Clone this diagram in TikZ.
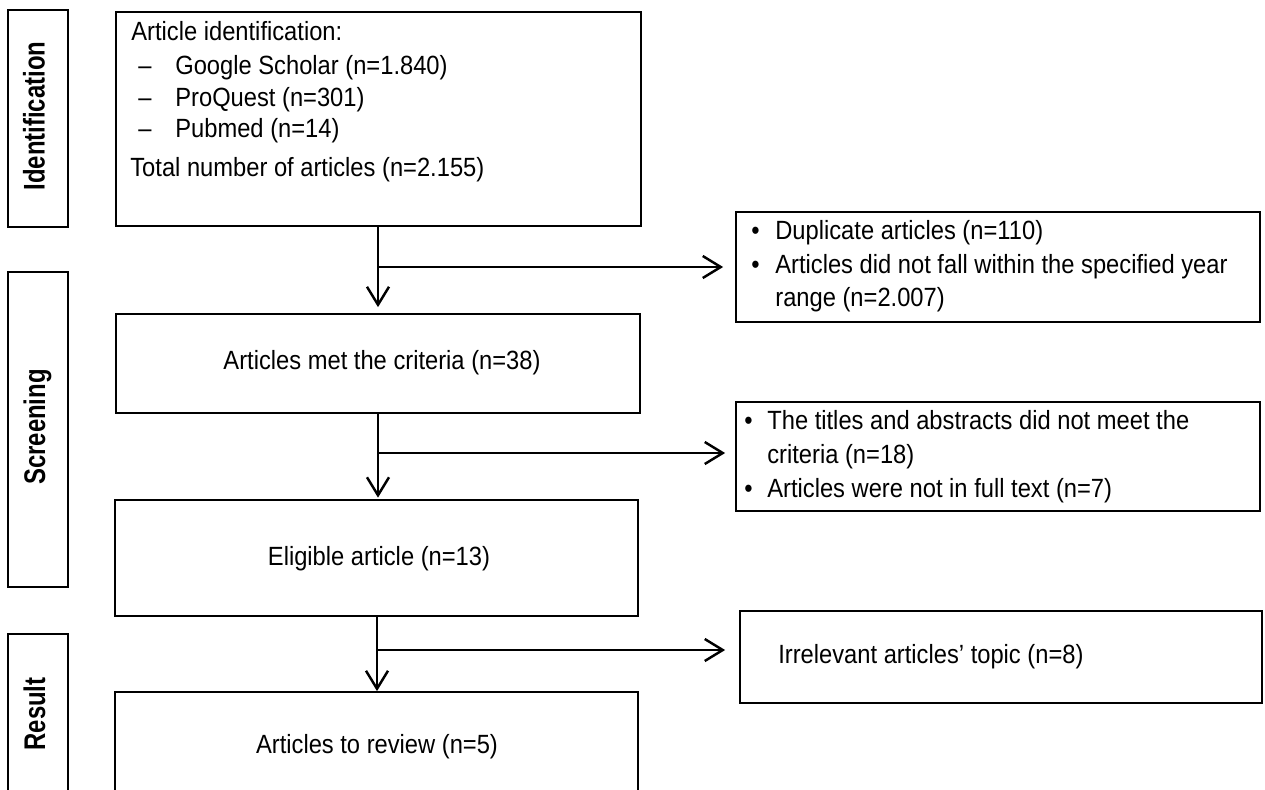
\documentclass[tikz,border=0pt]{standalone}
\usepackage{fontspec}
\setmainfont{Liberation Sans}[FakeStretch=0.9]
\newfontfamily\labfont{Liberation Sans}[FakeStretch=0.8]
\usetikzlibrary{arrows.meta,fit}
\begin{document}
\begin{tikzpicture}[x=0.02cm,y=-0.02cm,
  box/.style={draw=black,line width=1pt,rectangle,inner sep=0pt},
  txt/.style={inner sep=0pt,anchor=base west,font=\fontsize{15}{18}\selectfont},
  ctxt/.style={inner sep=0pt,anchor=base,font=\fontsize{15}{18}\selectfont},
  lab/.style={inner sep=0pt,rotate=90,anchor=center,font=\labfont\bfseries\fontsize{17}{20}\selectfont},
  conn/.style={line width=1.4pt},
  arr/.style={conn,-{Straight Barb[length=3.6mm,width=4.4mm,line width=1.4pt]}}
]
\clip (0,0) rectangle (1265,789);

% stage boxes
\node[box,fit={(8,10)(68,227)}] (sid) {};
\node[box,fit={(8,272)(68,587)}] (sscr) {};
\node[box,fit={(8,634)(68,820)}] (sres) {};
\node[lab] (lid) at (34,116) {Identification};
\node[lab] (lscr) at (37.5,427) {Screening};
\node[lab] (lres) at (34.5,714) {Result};

% main boxes
\node[box,fit={(116,12)(641,226)}] (b1) {};
\node[box,fit={(116,314)(640,413)}] (b2) {};
\node[box,fit={(115,500)(638,616)}] (b3) {};
\node[box,fit={(115,692)(638,820)}] (b4) {};

% side boxes
\node[box,fit={(736,212)(1260,322)}] (r1) {};
\node[box,fit={(736,402)(1260,511)}] (r2) {};
\node[box,fit={(740,611)(1262,703)}] (r3) {};

% texts in b1
\node[txt] (t11) at (131,40) {Article identification:};
\node[txt] (d12) at (138,74) {–};
\node[txt] (t12) at (175,74) {Google Scholar (n=1.840)};
\node[txt] (d13) at (138,106) {–};
\node[txt] (t13) at (175,106) {ProQuest (n=301)};
\node[txt] (d14) at (138,137) {–};
\node[txt] (t14) at (175,137) {Pubmed (n=14)};
\node[txt] (t15) at (130,176) {Total number of articles (n=2.155)};

\node[ctxt] (t2) at (382,369) {Articles met the criteria (n=38)};
\node[ctxt] (t3) at (379,565) {Eligible article (n=13)};
\node[ctxt] (t4) at (377,753) {Articles to review (n=5)};

% texts in r1
\node[txt] (p11) at (751,239) {•};
\node[txt] (q11) at (775,239) {Duplicate articles (n=110)};
\node[txt] (p12) at (751,273) {•};
\node[txt] (q12) at (775,273) {Articles did not fall within the specified year};
\node[txt] (q13) at (775,306) {range (n=2.007)};

% texts in r2
\node[txt] (p21) at (744,429) {•};
\node[txt] (q21) at (767,429) {The titles and abstracts did not meet the};
\node[txt] (q22) at (767,463) {criteria (n=18)};
\node[txt] (p23) at (744,497) {•};
\node[txt] (q23) at (767,497) {Articles were not in full text (n=7)};

% text in r3
\node[txt] (q31) at (778,663) {Irrelevant articles’ topic (n=8)};

% connectors
\coordinate (j1) at (378,267);
\coordinate (j2) at (378,453);
\coordinate (j3) at (377,650);
\draw[arr,shorten >=0.12cm] (b1.south -| j1) -- (b2.north -| j1);
\draw[arr,shorten >=0.03cm] (b2.south -| j2) -- (b3.north -| j2);
\draw[arr] (b3.south -| j3) -- (b4.north -| j3);
\draw[arr,shorten >=0.24cm] (j1) -- (j1 -| r1.west);
\draw[arr,shorten >=0.2cm] (j2) -- (j2 -| r2.west);
\draw[arr,shorten >=0.28cm] (j3) -- (j3 -| r3.west);
\end{tikzpicture}
\end{document}
